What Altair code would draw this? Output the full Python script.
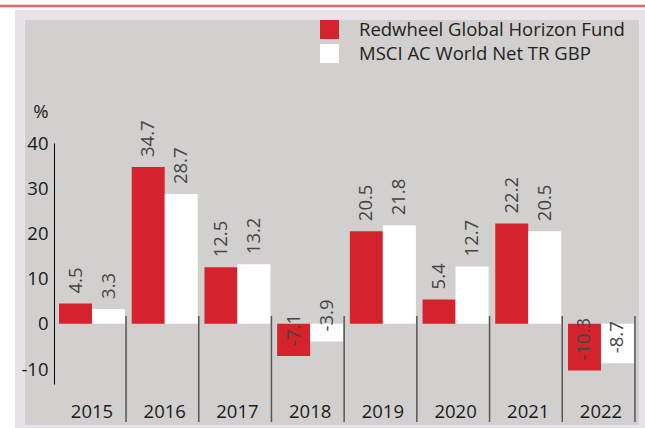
import altair as alt
import pandas as pd

years = ["2015", "2016", "2017", "2018", "2019", "2020", "2021", "2022"]
fund_name = "Redwheel Global Horizon Fund"
msci_name = "MSCI AC World Net TR GBP"
fund = [4.5, 34.7, 12.5, -7.1, 20.5, 5.4, 22.2, -10.3]
msci = [3.3, 28.7, 13.2, -3.9, 21.8, 12.7, 20.5, -8.7]
y_ticks = [-10, 0, 10, 20, 30, 40]

series_names = [fund_name, msci_name]
series_colors = ["#d4232c", "#ffffff"]

rows = []
for i, yr in enumerate(years):
    rows.append({"year": yr, "series": fund_name, "value": fund[i], "label": f"{fund[i]:.1f}"})
    rows.append({"year": yr, "series": msci_name, "value": msci[i], "label": f"{msci[i]:.1f}"})
df = pd.DataFrame(rows)

FONT = "Open Sans"
FS = 18.5

x_enc = alt.X(
    "year:N",
    sort=years,
    scale=alt.Scale(paddingInner=0.092, paddingOuter=0.069),
    axis=alt.Axis(
        title=None, domain=False, ticks=False, tickSize=0, labelAngle=0,
        labelPadding=18, labelFontSize=FS, labelFont=FONT, labelColor="#1a1a1a",
        zindex=1,
    ),
)
xoff_enc = alt.XOffset("series:N", sort=series_names,
                       scale=alt.Scale(paddingInner=0, paddingOuter=0))
y_enc = alt.Y(
    "value:Q",
    scale=alt.Scale(domain=[-13.3, 40], nice=False, zero=False),
    axis=alt.Axis(
        values=y_ticks, grid=False, ticks=False, tickSize=0,
        domain=True, domainColor="#000000", domainWidth=1,
        labelExpr="replace(datum.label, '\u2212', '-')",
        labelPadding=6, labelFontSize=FS, labelFont=FONT, labelColor="#1a1a1a",
        title="%", titleAngle=0, titleAlign="right", titleBaseline="alphabetic",
        titleX=-6, titleY=-26, titleFontSize=FS, titleFont=FONT,
        titleFontWeight="normal", titleColor="#1a1a1a", zindex=1,
    ),
)

one = pd.DataFrame({"a": [0]})

outer = alt.Chart(one).mark_rect(color="#e7e3e9").encode(
    x=alt.value(-39), x2=alt.value(591), y=alt.value(-133), y2=alt.value(285)
)
inner = alt.Chart(one).mark_rect(color="#d1d0ce").encode(
    x=alt.value(-29), x2=alt.value(585), y=alt.value(-123), y2=alt.value(282)
)
topline = alt.Chart(one).mark_rule(color="#e0676c", strokeWidth=2.5).encode(
    x=alt.value(-54), x2=alt.value(591), y=alt.value(-137)
)

bars = alt.Chart(df).mark_bar(opacity=1).encode(
    x=x_enc,
    xOffset=xoff_enc,
    y=y_enc,
    y2=alt.datum(0),
    color=alt.Color(
        "series:N",
        sort=series_names,
        scale=alt.Scale(domain=series_names, range=series_colors),
        legend=alt.Legend(
            title=None, orient="none", legendX=266, legendY=-123,
            direction="vertical", symbolType="square", symbolSize=361,
            symbolStrokeWidth=0, symbolOpacity=1, labelFontSize=FS,
            labelFont=FONT, labelColor="#222222", labelOffset=20,
            rowPadding=5, padding=0, labelLimit=400,
        ),
    ),
)

labels = alt.Chart(df).mark_text(
    angle=270, align="left", baseline="middle", dx=10,
    fontSize=FS, font=FONT, color="#444444",
).encode(
    x=alt.X("year:N", sort=years),
    xOffset=alt.XOffset("series:N", sort=series_names),
    y=alt.Y("value:Q"),
    text="label:N",
)

seps = alt.Chart(pd.DataFrame({"year": years})).mark_rule(
    color="#555555", strokeWidth=1.5, xOffset=1
).encode(
    x=alt.X("year:N", sort=years, bandPosition=1),
    y=alt.value(173),
    y2=alt.value(279),
)

chart = alt.layer(outer, inner, topline, bars, labels, seps).properties(
    width=585,
    height=241,
    padding={"left": 54, "top": 143, "right": 6, "bottom": 44},
    autosize=alt.AutoSizeParams(type="none"),
    background="#ffffff",
).configure_view(strokeWidth=0)

chart.save("out.html", embed_options={"renderer": "svg", "actions": False})
